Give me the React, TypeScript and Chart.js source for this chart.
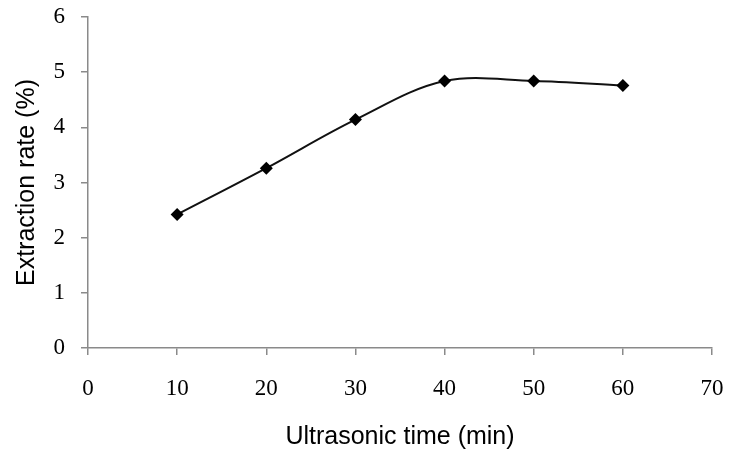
import React, { useEffect, useRef } from "react";
import { Chart, registerables } from "chart.js";

Chart.register(...registerables);

const times = [10, 20, 30, 40, 50, 60];
const rates = [2.42, 3.26, 4.14, 4.84, 4.84, 4.76];
const xTitle = "Ultrasonic time (min)";
const yTitle = "Extraction rate (%)";

export default function App() {
  const ref = useRef<HTMLCanvasElement>(null);
  useEffect(() => {
    const canvas = ref.current;
    if (!canvas) return;
    const axisColor = "#8a8a8a";
    const chart = new Chart(canvas, {
      type: "line",
      data: {
        datasets: [
          {
            data: times.map((t, i) => ({ x: t, y: rates[i] })),
            borderColor: "#111",
            borderWidth: 2,
            backgroundColor: "#000",
            pointStyle: "rectRot",
            pointRadius: 6.5,
            pointBackgroundColor: "#000",
            pointBorderColor: "#000",
            pointBorderWidth: 0,
            tension: 0.35,
          },
        ],
      },
      options: {
        responsive: false,
        animation: false,
        layout: { padding: { top: 17, right: 23, left: 0, bottom: 0 } },
        plugins: { legend: { display: false }, tooltip: { enabled: false } },
        scales: {
          x: {
            type: "linear",
            min: 0,
            max: 70,
            border: { display: true, color: axisColor, width: 1.5 },
            grid: { drawOnChartArea: false, drawTicks: true, tickLength: 7, color: axisColor, lineWidth: 1.5 },
            ticks: {
              stepSize: 10,
              padding: 20,
              color: "#000",
              font: { family: "'Liberation Serif', 'Times New Roman', serif", size: 23 },
            },
            title: {
              display: true,
              text: xTitle,
              color: "#000",
              padding: { top: 0, bottom: 12 },
              font: { family: "'Liberation Sans', Arial, sans-serif", size: 25 },
            },
            afterFit: (scale: any) => {
              scale.height = 116;
              scale.paddingLeft = 0;
              scale.paddingRight = 0;
            },
          },
          y: {
            type: "linear",
            min: 0,
            max: 6,
            border: { display: true, color: axisColor, width: 1.5 },
            grid: { drawOnChartArea: false, drawTicks: true, tickLength: 7, color: axisColor, lineWidth: 1.5 },
            ticks: {
              stepSize: 1,
              padding: 16,
              color: "#000",
              font: { family: "'Liberation Serif', 'Times New Roman', serif", size: 23 },
            },
            title: {
              display: true,
              text: yTitle,
              color: "#000",
              padding: { top: 12, bottom: 0 },
              font: { family: "'Liberation Sans', Arial, sans-serif", size: 25 },
            },
            afterFit: (scale: any) => {
              scale.width = 88;
              scale.paddingTop = 0;
              scale.paddingBottom = 0;
            },
          },
        },
      },
    });
    return () => chart.destroy();
  }, []);
  return (
    <div style={{ position: "fixed", left: 0, top: 0, width: 735, height: 464, background: "#fff" }}>
      <canvas ref={ref} width={735} height={464} />
    </div>
  );
}
